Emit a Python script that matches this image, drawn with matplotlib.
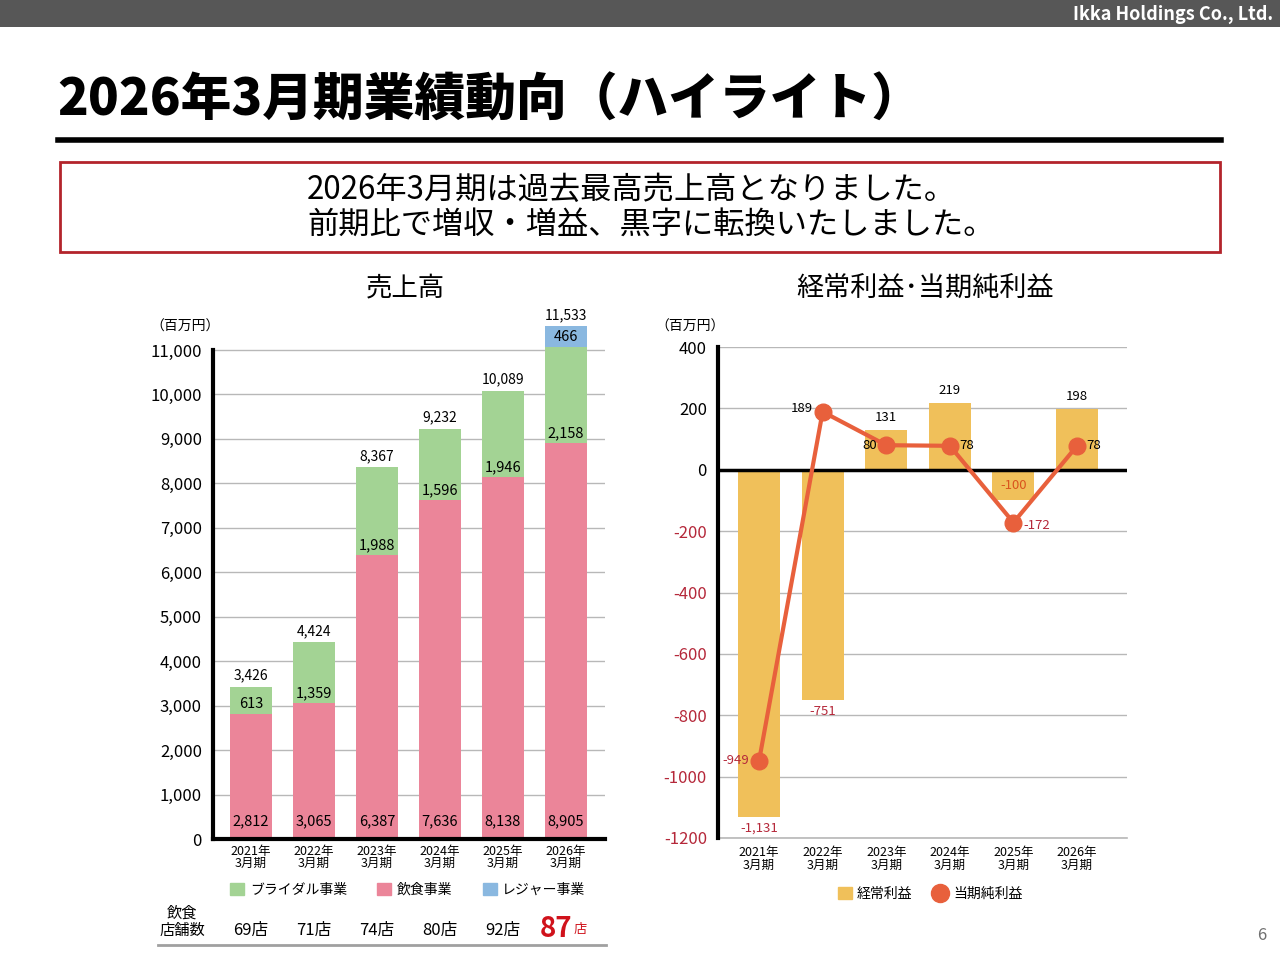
import matplotlib.pyplot as plt
import numpy as np
from matplotlib.patches import Rectangle, Patch
from matplotlib.lines import Line2D
from matplotlib.transforms import blended_transform_factory

plt.rcParams['font.family'] = ['Noto Sans CJK JP', 'DejaVu Sans']

# data
years = ["2021年\n3月期", "2022年\n3月期", "2023年\n3月期",
         "2024年\n3月期", "2025年\n3月期", "2026年\n3月期"]
food = [2812, 3065, 6387, 7636, 8138, 8905]
bridal = [613, 1359, 1988, 1596, 1946, 2158]
leisure = [0, 0, 0, 0, 0, 466]
sales_total = [3426, 4424, 8367, 9232, 10089, 11533]
stores = [69, 71, 74, 80, 92, 87]

ordinary = [-1131, -751, 131, 219, -100, 198]
net = [-949, 189, 80, 78, -172, 78]

GREEN = "#a3d394"
PINK = "#eb8599"
BLUE = "#8ab8e0"
GOLD = "#f0c05a"
ORANGE = "#e8603c"
DARKRED = "#b5283a"

W, H = 1280, 960
fig = plt.figure(figsize=(12.8, 9.6), dpi=100)


def fx(px):
    return px / W


def fy(py):
    return 1 - py / H


# header bar
fig.patches.append(Rectangle((0, fy(27)), 1, 27 / H, transform=fig.transFigure,
                             facecolor="#575757", edgecolor="none"))
fig.text(fx(1273), fy(14), "Ikka Holdings Co., Ltd.", color="white", fontsize=13,
         fontweight="bold", ha="right", va="center")

# title
fig.text(fx(57), fy(100), "2026年3月期業績動向（ハイライト）", fontsize=36.5,
         fontweight="black", ha="left", va="center")
fig.add_artist(Line2D([fx(58), fx(1221)], [fy(140), fy(140)], color="black",
                      linewidth=4, transform=fig.transFigure))

# message box
fig.patches.append(Rectangle((fx(60), fy(252)), fx(1220) - fx(60), 90 / H,
                             transform=fig.transFigure, facecolor="white",
                             edgecolor="#b3242b", linewidth=2))
fig.text(fx(307), fy(190), "2026年3月期は過去最高売上高となりました。", fontsize=22.5,
         ha="left", va="center")
fig.text(fx(307), fy(225), "前期比で増収・増益、黒字に転換いたしました。", fontsize=22.5,
         ha="left", va="center")

# ---------- left: sales ----------
px_per_k = (839 - 350) / 11
ytop = 11600
ax1 = fig.add_axes([fx(213), fy(839), 392 / W, ytop / 1000 * px_per_k / H])
x = np.arange(len(years))
bw = 0.67
ax1.bar(x, food, bw, color=PINK, zorder=3)
ax1.bar(x, bridal, bw, bottom=food, color=GREEN, zorder=3)
ax1.bar(x, leisure, bw, bottom=np.add(food, bridal), color=BLUE, zorder=3)
ax1.set_xlim(-0.6, 5.62)
ax1.set_ylim(0, ytop)
ax1.set_yticks(range(0, 11001, 1000))
ax1.set_yticklabels([f"{v:,}" for v in range(0, 11001, 1000)], fontsize=12)
ax1.set_xticks(x)
ax1.set_xticklabels(years, fontsize=9, linespacing=0.95)
ax1.tick_params(length=0, pad=8)
ax1.tick_params(axis="x", pad=4)
ax1.grid(axis="y", color="#b8b8b8", linewidth=1, zorder=0)
for s in ["top", "right"]:
    ax1.spines[s].set_visible(False)
ax1.spines["left"].set_linewidth(3)
ax1.spines["left"].set_bounds(0, 11000)
ax1.spines["bottom"].set_linewidth(3)
ax1.spines["bottom"].set_zorder(4)

for i in range(len(years)):
    ax1.text(x[i], sales_total[i] + 90, f"{sales_total[i]:,}", ha="center",
             va="bottom", fontsize=10)
    ax1.text(x[i], food[i] + 60, f"{bridal[i]:,}", ha="center", va="bottom",
             fontsize=10.5, zorder=5)
    ax1.text(x[i], 400, f"{food[i]:,}", ha="center", va="center", fontsize=10.5,
             zorder=5)
    if leisure[i]:
        ax1.text(x[i], food[i] + bridal[i] + leisure[i] / 2, f"{leisure[i]:,}",
                 ha="center", va="center", fontsize=10.5, zorder=5)

fig.text(fx(405), fy(288), "売上高", fontsize=19, ha="center", va="center")
fig.text(fx(150), fy(327), "（百万円）", fontsize=10, ha="left", va="center")

fig.legend(handles=[Patch(color=GREEN, label="ブライダル事業"),
                    Patch(color=PINK, label="飲食事業"),
                    Patch(color=BLUE, label="レジャー事業")],
           loc="center", bbox_to_anchor=(fx(408), fy(890)), ncol=3, frameon=False,
           fontsize=10, handlelength=1.0, handleheight=1.0, handletextpad=0.4,
           columnspacing=2.2)

# store counts
tr = blended_transform_factory(ax1.transData, fig.transFigure)
fig.text(fx(182), fy(922), "飲食\n店舗数", fontsize=11, ha="center", va="center",
         linespacing=1.05)
for i in range(len(years) - 1):
    ax1.text(x[i], fy(931), f"{stores[i]}店", transform=tr, ha="center",
             va="center", fontsize=12)
ax1.text(x[-1] + 0.1, fy(929), f"{stores[-1]}", transform=tr, ha="right",
         va="center", fontsize=20, fontweight="bold", color="#d0121b")
ax1.text(x[-1] + 0.12, fy(929), "店", transform=tr, ha="left", va="center",
         fontsize=9.5, color="#d0121b")
fig.add_artist(Line2D([fx(158), fx(606)], [fy(945), fy(945)], color="#a0a0a0",
                      linewidth=2, transform=fig.transFigure))

# ---------- right: profits ----------
ax2 = fig.add_axes([fx(718), fy(838), 409 / W, (838 - 347) / H])
ax2.bar(x, ordinary, 0.66, color=GOLD, zorder=3)
ax2.plot(x, net, color=ORANGE, linewidth=3, marker="o", markersize=12, zorder=5)
ax2.set_xlim(-0.645, 5.785)
ax2.set_ylim(-1200, 400)
yt = list(range(-1200, 401, 200))
ax2.set_yticks(yt)
ax2.set_yticklabels([str(v) for v in yt], fontsize=12)
for lab, v in zip(ax2.get_yticklabels(), yt):
    if v < 0:
        lab.set_color(DARKRED)
ax2.set_xticks(x)
ax2.set_xticklabels(years, fontsize=9, linespacing=0.95)
ax2.tick_params(length=0, pad=8)
ax2.tick_params(axis="x", pad=6)
ax2.grid(axis="y", color="#b8b8b8", linewidth=1, zorder=0)
for s in ["top", "right"]:
    ax2.spines[s].set_visible(False)
ax2.spines["bottom"].set_color("#b8b8b8")
ax2.spines["bottom"].set_linewidth(1.2)
ax2.spines["left"].set_linewidth(3)
ax2.spines["left"].set_zorder(5)
ax2.axhline(0, color="black", linewidth=2.5, zorder=4)

for i, v in enumerate(ordinary):
    if v > 0:
        ax2.text(x[i], v + 18, f"{v:,}", ha="center", va="bottom", fontsize=9.5)
    elif v > -200:
        ax2.text(x[i], v / 2, f"{v:,}", ha="center", va="center", fontsize=9.5,
                 color="#d9541e", zorder=4)
    else:
        ax2.text(x[i], v - 15, f"{v:,}", ha="center", va="top", fontsize=9.5,
                 color=DARKRED)

net_pos = ["left", "left", "left", "right", "right", "right"]
net_col = [DARKRED, "black", "black", "black", DARKRED, "black"]
for i, v in enumerate(net):
    dx = -0.15 if net_pos[i] == "left" else 0.15
    ha = "right" if net_pos[i] == "left" else "left"
    dy = 10 if i == 1 else -10 if v < 0 and i == 4 else 0
    ax2.text(x[i] + dx, v + dy, f"{v:,}", ha=ha, va="center", fontsize=9.5,
             color=net_col[i], zorder=6)

fig.text(fx(925), fy(288), "経常利益･当期純利益", fontsize=19.5, ha="center", va="center")
fig.text(fx(655), fy(327), "（百万円）", fontsize=10, ha="left", va="center")

fig.legend(handles=[Patch(color=GOLD, label="経常利益"),
                    Line2D([], [], color=ORANGE, marker="o", linestyle="none",
                           markersize=13, label="当期純利益")],
           loc="center", bbox_to_anchor=(fx(930), fy(894)), ncol=2, frameon=False,
           fontsize=10, handlelength=1.0, handleheight=1.0, handletextpad=0.4,
           columnspacing=1.5)

fig.text(fx(1262), fy(935), "6", fontsize=12, color="#707070", ha="center",
         va="center")

fig.savefig("out.png", dpi=100)
